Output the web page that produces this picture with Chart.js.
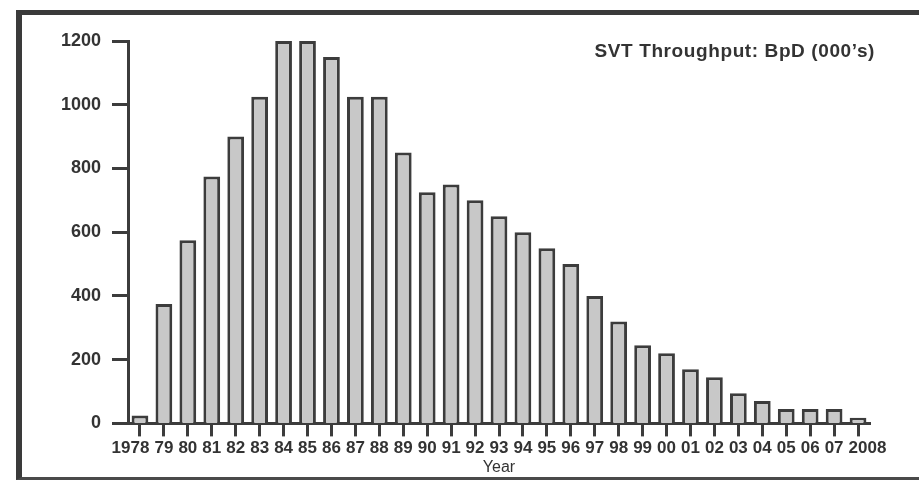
<!DOCTYPE html>
<html>
<head>
<meta charset="utf-8">
<script src="https://cdn.jsdelivr.net/npm/chart.js@4"></script>
<style>
  html, body { margin: 0; padding: 0; background: #fff; }
  #wrap { position: relative; width: 919px; height: 481px; overflow: hidden; }
  #frame {
    position: absolute; left: 16px; top: 10px; width: 920px; height: 462px;
    border-top: 5px solid #3a3a3a; border-left: 6px solid #3a3a3a; border-bottom: 3px solid #4a4a4a;
    pointer-events: none;
  }
  canvas { position: absolute; left: 0; top: 0; }
</style>
</head>
<body>
<div id="wrap">
  <canvas id="svtChart" width="919" height="481"></canvas>
  <div id="frame"></div>
</div>
<script>
const years = ['1978', '79', '80', '81', '82', '83', '84', '85', '86', '87', '88', '89', '90', '91', '92', '93',
    '94', '95', '96', '97', '98', '99', '00', '01', '02', '03', '04', '05', '06', '07', '2008'];
const throughput = [25, 375, 575, 775, 900, 1025, 1200, 1200, 1150, 1025, 1025, 850, 725, 750, 700, 650,
    600, 550, 500, 400, 320, 245, 220, 170, 145, 95, 70, 45, 45, 45, 18];
const yTicks = [0, 200, 400, 600, 800, 1000, 1200];
const chartTitle = 'SVT Throughput: BpD (000\u2019s)';
const xTitle = 'Year';

const ink = '#3c3c3c';
const fontFamily = '"Liberation Sans", Arial, sans-serif';

// title sits inside the plot, top right
const titlePlugin = {
    id: 'insideTitle',
    afterDraw(chart) {
        const ctx = chart.ctx;
        ctx.save();
        ctx.font = 'bold 19px ' + fontFamily;
        ctx.letterSpacing = '0.6px';
        ctx.fillStyle = '#333';
        ctx.textAlign = 'right';
        ctx.textBaseline = 'alphabetic';
        ctx.fillText(chartTitle, 875, 57);
        ctx.restore();
    }
};

const svtCtx = document.getElementById('svtChart').getContext('2d');
new Chart(svtCtx, {
    type: 'bar',
    data: {
        labels: years,
        datasets: [{
            label: 'SVT Throughput',
            data: throughput,
            backgroundColor: '#c8c8c8',
            borderColor: ink,
            borderWidth: 3,
            borderSkipped: 'start',
            barPercentage: 0.7,
            categoryPercentage: 1
        }]
    },
    options: {
        responsive: false,
        animation: false,
        layout: {
            padding: { left: 0, top: 41, right: 49, bottom: 4 }
        },
        plugins: {
            legend: { display: false },
            tooltip: { enabled: false }
        },
        scales: {
            x: {
                grid: {
                    offset: false,
                    drawOnChartArea: false,
                    drawTicks: true,
                    tickLength: 13,
                    tickWidth: 3,
                    tickColor: ink
                },
                border: { display: true, color: ink, width: 3 },
                ticks: {
                    autoSkip: false,
                    maxRotation: 0,
                    minRotation: 0,
                    padding: 2,
                    color: '#333',
                    font: { family: fontFamily, size: 17, weight: 'bold' },
                    // the long end labels hang outward, as in the printed chart
                    callback(value, index) {
                        const lbl = this.getLabelForValue(value);
                        if (index === 0) return lbl + '    ';
                        if (index === years.length - 1) return '    ' + lbl;
                        return lbl;
                    }
                },
                title: {
                    display: true,
                    text: xTitle,
                    color: '#333',
                    padding: { top: -3, bottom: 0 },
                    font: { family: fontFamily, size: 16 }
                }
            },
            y: {
                min: 0,
                max: 1200,
                afterFit(scale) { scale.width = 128; },
                afterBuildTicks(scale) { scale.ticks = yTicks.map(v => ({ value: v })); },
                grid: {
                    drawOnChartArea: false,
                    drawTicks: true,
                    tickLength: 16,
                    tickWidth: 3,
                    tickColor: ink
                },
                border: { display: true, color: ink, width: 3 },
                ticks: {
                    padding: 11,
                    color: '#333',
                    font: { family: fontFamily, size: 18, weight: 'bold' },
                    callback: v => String(v)
                }
            }
        }
    },
    plugins: [titlePlugin]
});
</script>
</body>
</html>
